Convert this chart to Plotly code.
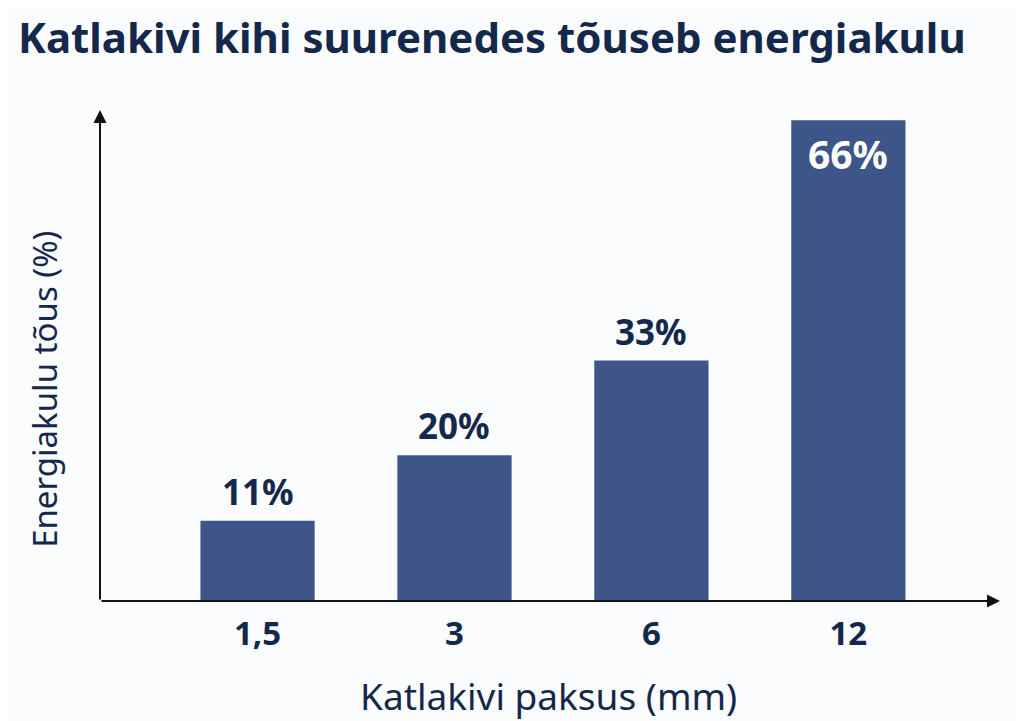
import plotly.graph_objects as go

# andmed
paksus = ["1,5", "3", "6", "12"]
energiakulu_tous = [11, 20, 33, 66]
sildid = ["11%", "20%", "33%", "66%"]

TUMESININE = "#14284b"
TULP = "#3d5588"
TAUST = "#fbfcfe"
FONT = "Noto Sans"

# lehe body margin on 8px, seega joonis on 8px võrra väiksem
W, H = 1016, 713

fig = go.Figure()

fig.add_trace(go.Bar(
    x=paksus,
    y=energiakulu_tous,
    marker=dict(color=TULP, line=dict(width=0)),
    width=0.58,
    hoverinfo="skip",
))

# väärtuste sildid: viimane tulba sees valgena
for i, (val, silt) in enumerate(zip(energiakulu_tous, sildid)):
    sees = i == len(paksus) - 1
    fig.add_annotation(
        x=i, y=val, xref="x", yref="y",
        text=silt, showarrow=False,
        yanchor="top" if sees else "bottom",
        yshift=-5 if sees else 4,
        font=dict(family=FONT, size=39 if sees else 35,
                  color="white" if sees else TUMESININE, weight="bold"),
    )

# teljed noolega
for hx, hy in [(0, 1.0), (1.0, 0)]:
    fig.add_annotation(x=hx, y=hy, ax=0, ay=0, xref="x domain", yref="y domain",
                       axref="x domain", ayref="y domain", text="", showarrow=True,
                       arrowhead=2, arrowsize=1.3, arrowwidth=2, arrowcolor="#111111")

# telgede pealkirjad
fig.add_annotation(x=0, y=0.43, xref="paper", yref="paper", xshift=-55,
                   xanchor="center", yanchor="middle",
                   text="Energiakulu tõus (%)", textangle=-90, showarrow=False,
                   font=dict(family=FONT, size=33, color=TUMESININE))
fig.add_annotation(x=0.498, y=0, xref="paper", yref="paper", yshift=-94,
                   yanchor="middle", text="Katlakivi paksus (mm)", showarrow=False,
                   font=dict(family=FONT, size=37, color=TUMESININE))

fig.update_layout(
    width=W, height=H,
    paper_bgcolor=TAUST, plot_bgcolor=TAUST,
    margin=dict(l=92, r=24, t=102, b=120),
    showlegend=False,
    title=dict(
        text="<b>Katlakivi kihi suurenedes tõuseb energiakulu</b>",
        x=10 / W, xanchor="left", xref="container",
        y=1 - 30 / H, yanchor="middle", yref="container",
        font=dict(family=FONT, size=42, color=TUMESININE),
    ),
    font=dict(family=FONT, color=TUMESININE),
)

fig.update_xaxes(
    type="category",
    range=[-0.8, 3.77],
    automargin=False,
    showline=False, showgrid=False, zeroline=False,
    ticks="", ticklabelstandoff=10,
    tickfont=dict(family=FONT, size=33, color=TUMESININE, weight="bold"),
)

fig.update_yaxes(
    range=[0, 67.4],
    automargin=False,
    showline=False, showgrid=False, zeroline=False,
    showticklabels=False, ticks="",
)

fig.write_html("out.html")
